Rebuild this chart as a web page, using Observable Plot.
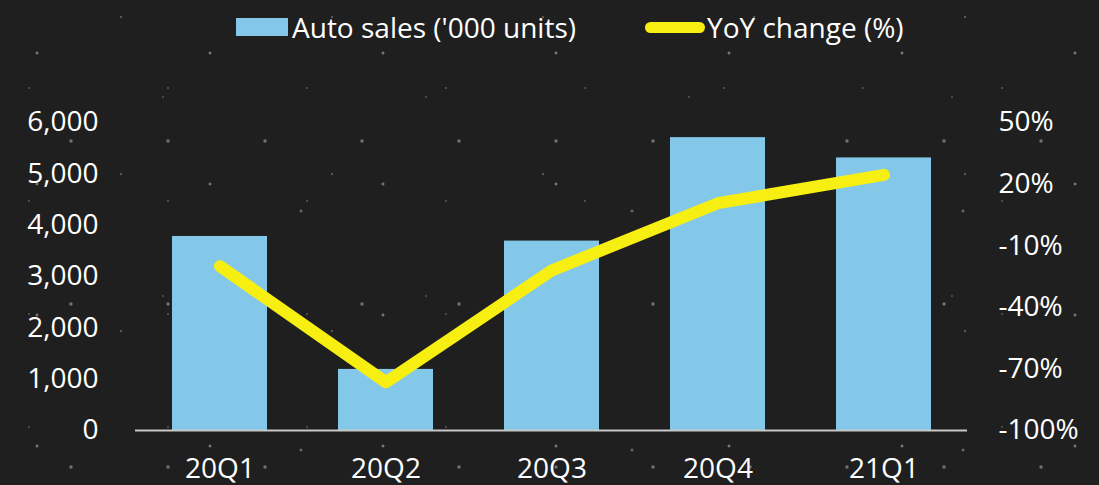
<!DOCTYPE html>
<html><head><meta charset="utf-8">
<script src="https://cdn.jsdelivr.net/npm/d3@7"></script>
<script src="https://cdn.jsdelivr.net/npm/@observablehq/plot@0.6"></script>
<style>
html,body{margin:0;padding:0;}
body{width:1099px;height:485px;overflow:hidden;position:relative;font-family:"Open Sans",sans-serif;color:#fff;
 background-color:#1f1f1f;
 background-image:
  radial-gradient(circle at 37px 53px, rgba(255,255,255,.6) 0, rgba(255,255,255,0) 2px),
  radial-gradient(circle at 121px 17px, rgba(255,255,255,.45) 0, rgba(255,255,255,0) 1.6px),
  radial-gradient(circle at 71px 141px, rgba(255,255,255,.55) 0, rgba(255,255,255,0) 2.4px),
  radial-gradient(circle at 163px 97px, rgba(255,255,255,.35) 0, rgba(255,255,255,0) 1.5px),
  radial-gradient(circle at 29px 88px, rgba(255,255,255,.4) 0, rgba(255,255,255,0) 1.4px),
  radial-gradient(circle at 301px 211px, rgba(255,255,255,.5) 0, rgba(255,255,255,0) 2px);
 background-size:173px 131px, 211px 157px, 97px 163px, 263px 199px, 139px 113px, 331px 239px;
}
#legend{position:absolute;top:0;left:0;width:1099px;height:60px;font-size:28px;}
.item{position:absolute;top:7px;height:40px;display:flex;align-items:center;white-space:nowrap;}
.sw-bar{width:52px;height:18px;background:#83c8e8;margin-right:4px;}
.sw-line{width:60px;height:11px;border-radius:6px;background:#f7ee12;margin-right:2px;}
#chart{position:absolute;top:60px;left:0;}
</style></head>
<body>
<div id="legend">
  <div class="item" style="left:236px"><div class="sw-bar"></div><span>Auto sales ('000 units)</span></div>
  <div class="item" style="left:645px"><div class="sw-line"></div><span>YoY change (%)</span></div>
</div>
<div id="chart"></div>
<script>
const quarters = ["20Q1","20Q2","20Q3","20Q4","21Q1"];
const sales = [3780, 1190, 3690, 5705, 5310];
const yoy = [-20, -76.5, -22, 10.7, 24.5];
const leftTicks = [0,1000,2000,3000,4000,5000,6000];
const rightTicks = [-100,-70,-40,-10,20,50];

const data = quarters.map((q,i)=>({q, sales: sales[i], yoy: yoy[i]}));
// map the right (%) axis onto the left scale domain [0, 6000]
const toLeft = v => (v + 100) / 150 * 6000;
const fromLeft = u => u / 6000 * 150 - 100;

const chart = Plot.plot({
  width: 1099, height: 425,
  marginTop: 62, marginBottom: 55, marginLeft: 135, marginRight: 132,
  style: {background: "transparent", color: "#fff", fontFamily: "'Open Sans', sans-serif", fontSize: "28px", overflow: "visible"},
  x: {type: "band", domain: quarters, paddingInner: 0.43, paddingOuter: 0.215, align: 0.5},
  y: {domain: [0, 6000]},
  marks: [
    Plot.barY(data, {x: "q", y: "sales", fill: "#83c8e8"}),
    Plot.ruleY([0], {stroke: "#c8c8c8", strokeWidth: 2}),
    Plot.line(data, {x: "q", y: d => toLeft(d.yoy), stroke: "#f7ee12", strokeWidth: 12, strokeLinecap: "round", strokeLinejoin: "round"}),
    Plot.axisX({tickSize: 0, tickPadding: 28, label: null, fontSize: 28}),
    Plot.axisY({anchor: "left", ticks: leftTicks, tickFormat: d3.format(","), tickSize: 0, tickPadding: 37, label: null, fontSize: 28}),
    Plot.axisY({anchor: "right", ticks: rightTicks.map(toLeft), tickFormat: d => Math.round(fromLeft(d)) + "%", tickSize: 0, tickPadding: 31, label: null, fontSize: 28})
  ]
});
document.getElementById("chart").appendChild(chart);
</script>
</body></html>
